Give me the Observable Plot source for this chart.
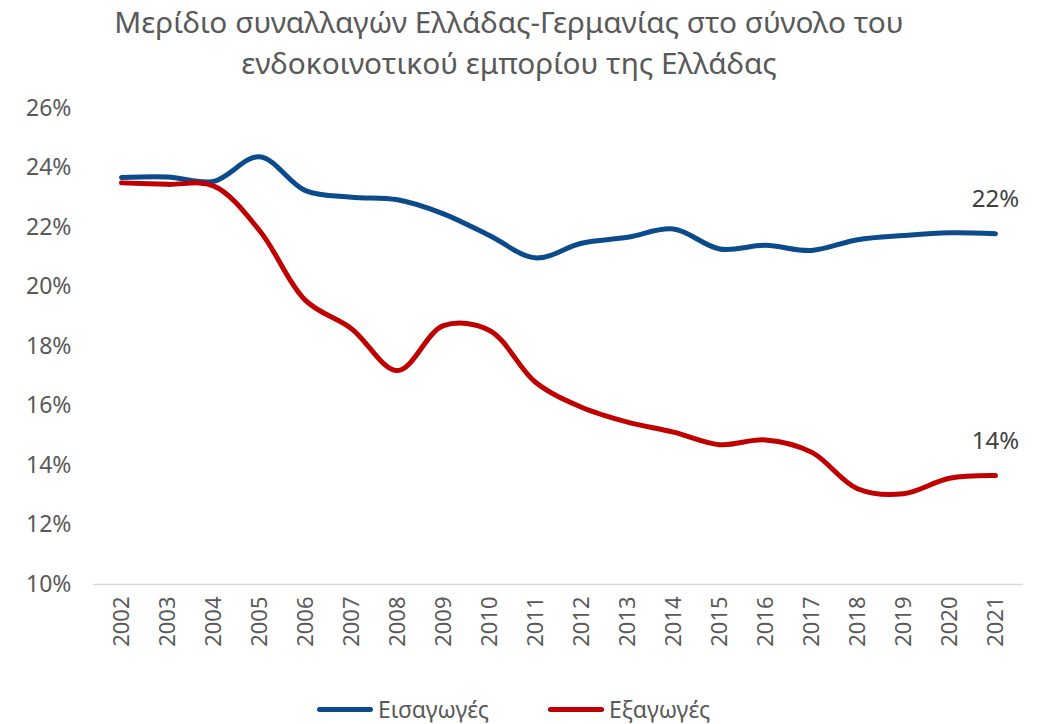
<!DOCTYPE html>
<html>
<head>
<meta charset="utf-8">
<script src="https://cdn.jsdelivr.net/npm/d3@7"></script>
<script src="https://cdn.jsdelivr.net/npm/@observablehq/plot@0.6"></script>
<style>
  html, body { margin: 0; padding: 0; background: #fff; }
  body { width: 1046px; height: 724px; overflow: hidden; font-family: "Noto Sans", "Open Sans", sans-serif; }
  #title { position: absolute; left: 0; top: 1px; width: 1018px; text-align: center; color: #595959; font-size: 29.8px; line-height: 41px; }
  #chart { position: absolute; left: 0; top: 90px; }
  #legend { position: absolute; top: 693px; left: 0; width: 1046px; height: 30px; font-size: 23px; color: #595959; }
  .item { position: absolute; display: flex; align-items: center; }
  .sw { width: 56px; height: 5px; border-radius: 3px; margin-right: 5px; }
</style>
</head>
<body>
<div id="title">Μερίδιο συναλλαγών Ελλάδας-Γερμανίας στο σύνολο του<br>ενδοκοινοτικού εμπορίου της Ελλάδας</div>
<div id="chart"></div>
<div id="legend"></div>
<script>
const years = ["2002","2003","2004","2005","2006","2007","2008","2009","2010","2011","2012","2013","2014","2015","2016","2017","2018","2019","2020","2021"];
const imports = [23.68, 23.70, 23.55, 24.38, 23.24, 23.02, 22.93, 22.46, 21.73, 20.98, 21.47, 21.67, 21.95, 21.28, 21.40, 21.23, 21.59, 21.73, 21.82, 21.79];
const exports = [23.50, 23.45, 23.40, 21.90, 19.55, 18.60, 17.19, 18.70, 18.54, 16.80, 15.96, 15.46, 15.12, 14.70, 14.86, 14.45, 13.22, 13.05, 13.57, 13.66];
const seriesNames = ["Εισαγωγές", "Εξαγωγές"];
const seriesColors = ["#0B4A8B", "#C00000"];
const yTicks = [10, 12, 14, 16, 18, 20, 22, 24, 26];

const data = [];
years.forEach((y, i) => {
  data.push({year: y, value: imports[i], series: seriesNames[0]});
  data.push({year: y, value: exports[i], series: seriesNames[1]});
});
const last = data.filter(d => d.year === years[years.length - 1]);

const chart = Plot.plot({
  width: 1046,
  height: 590,
  marginLeft: 93,
  marginRight: 23,
  marginTop: 18,
  marginBottom: 96,
  style: {fontFamily: "Noto Sans, Open Sans, sans-serif", background: "#fff"},
  x: {type: "point", domain: years, padding: 0.5, label: null},
  y: {domain: [10, 26], label: null},
  color: {domain: seriesNames, range: seriesColors},
  marks: [
    Plot.ruleY([10], {stroke: "#d9d9d9", strokeWidth: 1.5}),
    Plot.axisY({ticks: yTicks, tickFormat: d => d + "%", tickSize: 0, tickPadding: 22, fontSize: 23, color: "#595959", label: null}),
    Plot.axisX({tickRotate: -90, tickSize: 0, tickPadding: 12, fontSize: 22, color: "#595959", label: null}),
    Plot.line(data, {x: "year", y: "value", z: "series", stroke: "series", strokeWidth: 5, curve: "catmull-rom", strokeLinecap: "round", strokeLinejoin: "round"}),
    Plot.text(last, {x: "year", y: "value", text: d => Math.round(d.value) + "%", dy: -34, fontSize: 24, fill: "#404040"})
  ]
});
document.getElementById("chart").appendChild(chart);

const legend = document.getElementById("legend");
const lefts = [317, 548];
seriesNames.forEach((n, i) => {
  const it = document.createElement("div");
  it.className = "item";
  it.style.left = lefts[i] + "px";
  it.innerHTML = `<span class="sw" style="background:${seriesColors[i]}"></span><span>${n}</span>`;
  legend.appendChild(it);
});
</script>
</body>
</html>
